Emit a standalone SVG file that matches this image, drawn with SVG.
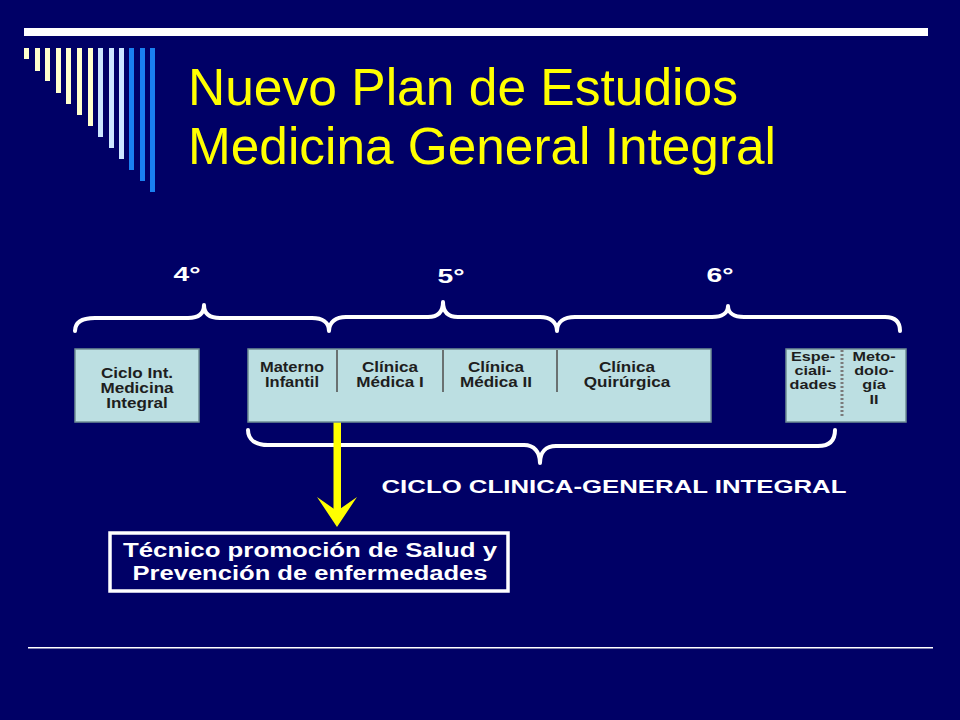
<svg xmlns="http://www.w3.org/2000/svg" width="960" height="720" viewBox="0 0 960 720">
<style>
.title{font-family:"Liberation Sans",Arial,sans-serif;font-size:51.5px;fill:#FFFF00}
.box{fill:#BCDFE2;stroke:#6F8E94;stroke-width:1.5}
.bt{font-family:"Liberation Sans",Arial,sans-serif;font-weight:bold;font-size:15px;fill:#1E1E1E;text-anchor:middle}
.bs{font-family:"Liberation Sans",Arial,sans-serif;font-weight:bold;font-size:13.5px;fill:#1E1E1E;text-anchor:middle}
.wl{font-family:"Liberation Sans",Arial,sans-serif;font-weight:bold;fill:#FFFFFF;text-anchor:middle}
.brace{fill:none;stroke:#FFFFFF;stroke-width:4;stroke-linecap:round;stroke-linejoin:round}
.div{stroke:#555555;stroke-width:1.6}
</style>
<rect x="0" y="0" width="960" height="720" fill="#000066"/>
<g id="decoration">
<rect x="24" y="28" width="904" height="8" fill="#FFFFFF"/>
<g fill="#FFFFCC">
<rect x="24" y="48" width="5" height="11"/>
<rect x="35" y="48" width="5" height="23"/>
<rect x="45" y="48" width="5" height="33"/>
<rect x="56" y="48" width="5" height="45"/>
<rect x="66" y="48" width="5" height="56"/>
<rect x="77" y="48" width="5" height="67"/>
<rect x="88" y="48" width="5" height="78"/>
</g>
<g fill="#CCE6FF">
<rect x="98" y="48" width="5" height="89"/>
<rect x="109" y="48" width="5" height="100"/>
<rect x="119" y="48" width="5" height="111"/>
</g>
<g fill="#1A80F0">
<rect x="129" y="48" width="5" height="122"/>
<rect x="140" y="48" width="5" height="133"/>
<rect x="150" y="48" width="5" height="144"/>
</g>
<rect x="28" y="647" width="905" height="1.5" fill="#FFFFFF"/>
</g>
<g id="title">
<text class="title" x="188" y="105" textLength="550" lengthAdjust="spacingAndGlyphs">Nuevo Plan de Estudios</text>
<text class="title" x="188" y="164" textLength="588" lengthAdjust="spacingAndGlyphs">Medicina General Integral</text>
</g>
<g id="connectors">
<path class="brace" d="M75,331 C75,322 82,318 95,318 L188,318 C198,318 204,314 204,305 C204,314 210,318 220,318 L312,318 C322,318 329,322 329,331 C329,322 336,317 346,317 L428,317 C438,317 443,312 443,302 C443,312 448,317 458,317 L540,317 C550,317 557,322 557,331 C557,322 564,317 575,317 L712,317 C722,317 728,313 728,306 C728,313 734,317 744,317 L885,317 C895,317 900,322 900,331"/>
<path class="brace" d="M248,430 C248,440 256,445 268,445 L524,445 C534,445 540,452 540,463 C540,452 546,446 556,446 L818,446 C830,446 835,440 835,430"/>
<g id="arrow" fill="#FFFF00">
<rect x="333.5" y="422" width="7.5" height="92"/>
<polygon points="317,497 337,511 357,497 337,527"/>
</g>
</g>
<g id="year-labels">
<text class="wl" x="187" y="281" font-size="21" textLength="27" lengthAdjust="spacingAndGlyphs">4°</text>
<text class="wl" x="451" y="283" font-size="21" textLength="27" lengthAdjust="spacingAndGlyphs">5°</text>
<text class="wl" x="720" y="282" font-size="21" textLength="27" lengthAdjust="spacingAndGlyphs">6°</text>
</g>
<g id="node-ciclo-int">
<rect class="box" x="75" y="349" width="124" height="73"/>
<text class="bt" transform="translate(137 0) scale(1.14 1)"><tspan x="0" y="378">Ciclo Int.</tspan><tspan x="0" y="393">Medicina</tspan><tspan x="0" y="408">Integral</tspan></text>
</g>
<g id="node-clinico">
<rect class="box" x="248" y="349" width="463" height="73"/>
<line class="div" x1="337" y1="350" x2="337" y2="392"/>
<line class="div" x1="443" y1="350" x2="443" y2="392"/>
<line class="div" x1="557" y1="350" x2="557" y2="392"/>
<text class="bt" transform="translate(292 0) scale(1.1 1)"><tspan x="0" y="372">Materno</tspan><tspan x="0" y="387">Infantil</tspan></text>
<text class="bt" transform="translate(390 0) scale(1.14 1)"><tspan x="0" y="372">Clínica</tspan><tspan x="0" y="387">Médica I</tspan></text>
<text class="bt" transform="translate(496 0) scale(1.14 1)"><tspan x="0" y="372">Clínica</tspan><tspan x="0" y="387">Médica II</tspan></text>
<text class="bt" transform="translate(627 0) scale(1.14 1)"><tspan x="0" y="372">Clínica</tspan><tspan x="0" y="387">Quirúrgica</tspan></text>
</g>
<g id="node-sexto">
<rect class="box" x="786" y="349" width="120" height="73"/>
<line x1="842" y1="350" x2="842" y2="418" stroke="#7A7A7A" stroke-width="3" stroke-dasharray="2,2"/>
<text class="bs" transform="translate(813 0) scale(1.2 1)"><tspan x="0" y="361">Espe-</tspan><tspan x="0" y="375">ciali-</tspan><tspan x="0" y="389">dades</tspan></text>
<text class="bs" transform="translate(874 0) scale(1.2 1)"><tspan x="0" y="361">Meto-</tspan><tspan x="0" y="375">dolo-</tspan><tspan x="0" y="389">gía</tspan><tspan x="0" y="404">II</tspan></text>
</g>
<g id="label-ciclo">
<text class="wl" x="614" y="493" font-size="18.5" textLength="465" lengthAdjust="spacingAndGlyphs">CICLO CLINICA-GENERAL INTEGRAL</text>
</g>
<g id="node-tecnico">
<rect x="110" y="533" width="398" height="58" fill="none" stroke="#FFFFFF" stroke-width="3.5"/>
<text class="wl" x="310" y="557" font-size="19.5" textLength="374" lengthAdjust="spacingAndGlyphs">Técnico promoción de Salud y</text>
<text class="wl" x="310" y="580" font-size="19.5" textLength="355" lengthAdjust="spacingAndGlyphs">Prevención de enfermedades</text>
</g>
</svg>
